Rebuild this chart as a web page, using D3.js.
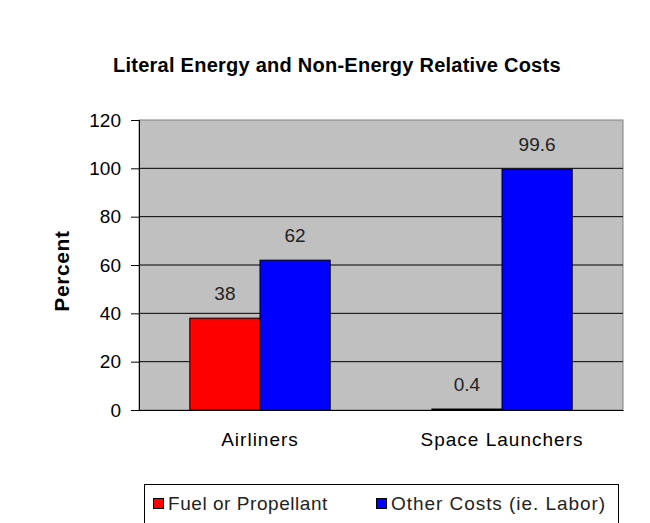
<!DOCTYPE html>
<html>
<head>
<meta charset="utf-8">
<script src="https://cdn.jsdelivr.net/npm/d3@7"></script>
<style>
  body { margin: 0; background: #fff; }
  text { font-family: "Liberation Sans", Arial, sans-serif; fill: #000; }
</style>
</head>
<body>
<script>
// data
var categories = ['Airliners', 'Space Launchers']
var seriesNames = ['Fuel or Propellant', 'Other Costs (ie. Labor)']
var fuelValues = [38, 0.4]
var otherValues = [62, 99.6]
var yTicks = [0, 20, 40, 60, 80, 100, 120]
var colors = ['#ff0000', '#0000ff']

var width = 650, height = 523
var margin = {left: 139, right: 27, top: 120, bottom: 113}
var innerW = width - margin.left - margin.right
var innerH = height - margin.top - margin.bottom
var fontFam = '"Liberation Sans", Arial, sans-serif'

var svg = d3.select('body').append('svg')
  .attr('width', width).attr('height', height)

svg.append('text')
  .attr('x', 113).attr('y', 72)
  .style('font-size', '20px').style('font-weight', 'bold')
  .style('letter-spacing', '0.25px')
  .text('Literal Energy and Non-Energy Relative Costs')

var g = svg.append('g').attr('transform', 'translate(' + margin.left + ',' + margin.top + ')')

var x = d3.scaleBand().domain(categories).range([0, innerW])
var x1 = d3.scaleBand().domain(seriesNames).range([x.bandwidth() * 0.21, x.bandwidth() * 0.79])
var y = d3.scaleLinear().domain([0, 120]).range([innerH, 0])

// plot background
g.append('rect')
  .attr('width', innerW).attr('height', innerH)
  .attr('fill', '#c0c0c0').attr('stroke', '#808080')

// gridlines
g.selectAll('.grid').data(yTicks.filter(d => d > 0 && d < 120)).enter()
  .append('line')
  .attr('x1', 0).attr('x2', innerW)
  .attr('y1', d => y(d)).attr('y2', d => y(d))
  .attr('stroke', '#000').attr('stroke-width', 1)

// bars
var rows = categories.map((c, i) => ({cat: c, vals: [fuelValues[i], otherValues[i]]}))
var groups = g.selectAll('.grp').data(rows).enter().append('g')
  .attr('transform', d => 'translate(' + x(d.cat) + ',0)')

groups.selectAll('rect').data(d => d.vals.map((v, j) => ({name: seriesNames[j], v: v, j: j})))
  .enter().append('rect')
  .attr('x', d => x1(d.name))
  .attr('y', d => y(d.v))
  .attr('width', x1.bandwidth())
  .attr('height', d => innerH - y(d.v))
  .attr('fill', d => colors[d.j])
  .attr('stroke', '#000').attr('stroke-width', 1)

groups.selectAll('.lbl').data(d => d.vals.map((v, j) => ({name: seriesNames[j], v: v})))
  .enter().append('text')
  .attr('x', d => x1(d.name) + x1.bandwidth() / 2)
  .attr('y', d => y(d.v) - 18)
  .attr('text-anchor', 'middle')
  .style('font-size', '19px').style('fill', '#222')
  .text(d => d.v)

// axes
var yAxis = d3.axisLeft(y).tickValues(yTicks).tickSize(8).tickPadding(10)
var ya = g.append('g').call(yAxis)
ya.select('.domain').attr('stroke', '#000')
ya.selectAll('text').style('font-size', '19px').style('font-family', fontFam).attr('fill', '#222')

var xa = g.append('g').attr('transform', 'translate(0,' + innerH + ')')
  .call(d3.axisBottom(x).tickSize(0).tickPadding(23))
xa.select('.domain').attr('stroke', '#000')
xa.selectAll('text').style('font-size', '19px').style('font-family', fontFam)
  .style('letter-spacing', '1px').attr('fill', '#222')

svg.append('text')
  .attr('transform', 'translate(69,' + (margin.top + innerH / 2 + 6) + ') rotate(-90)')
  .attr('text-anchor', 'middle')
  .style('font-size', '21px').style('font-weight', 'bold')
  .style('letter-spacing', '0.6px')
  .text('Percent')

// legend
var leg = svg.append('g')
leg.append('rect')
  .attr('x', 144.5).attr('y', 484.5).attr('width', 474).attr('height', 50)
  .attr('fill', '#fff').attr('stroke', '#000')
var legX = [153, 376]
seriesNames.forEach(function(n, i) {
  leg.append('rect').attr('x', legX[i] + 0.5).attr('y', 498.5).attr('width', 10).attr('height', 10)
    .attr('fill', colors[i]).attr('stroke', '#000')
  leg.append('text').attr('x', legX[i] + 15).attr('y', 510)
    .style('font-size', '19px').style('fill', '#222')
    .style('letter-spacing', i === 0 ? '0.55px' : '0.95px').text(n)
})
</script>
</body>
</html>
